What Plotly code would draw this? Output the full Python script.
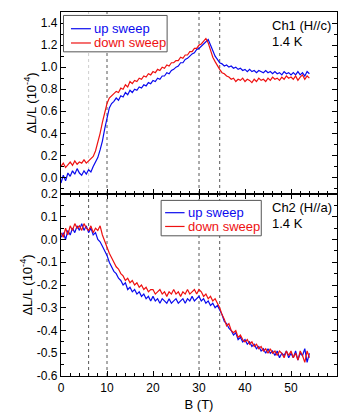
import plotly.graph_objects as go

# Field sweep grid (tesla), 0.5 T steps from 0 to 54 T
field_T = [round(0.5 * i, 1) for i in range(109)]

# Ch1 (H//c), 1.4 K, dL/L in units of 1e-4
ch1_up = [
    -0.05, 0.02, -0.03, 0.04, 0.01, 0.06, 0.03, 0.08, 0.04, 0.02,
    0.06, 0.03, 0.07, 0.05, 0.10, 0.14, 0.18, 0.25, 0.33, 0.44,
    0.54, 0.63, 0.67, 0.69, 0.72, 0.70, 0.74, 0.73, 0.77, 0.75,
    0.79, 0.77, 0.80, 0.79, 0.82, 0.81, 0.84, 0.83, 0.86, 0.85,
    0.88, 0.87, 0.90, 0.89, 0.92, 0.92, 0.95, 0.94, 0.97, 0.98,
    1.00, 1.01, 1.04, 1.04, 1.07, 1.08, 1.10, 1.12, 1.13, 1.16,
    1.17, 1.19, 1.21, 1.23, 1.25, 1.20, 1.15, 1.10, 1.07, 1.04,
    1.03, 1.01, 1.02, 1.00, 1.01, 0.99, 1.00, 0.98, 0.99, 0.97,
    0.98, 0.96, 0.98, 0.96, 0.97, 0.95, 0.97, 0.96, 0.95, 0.97,
    0.95, 0.96, 0.94, 0.96, 0.94, 0.95, 0.93, 0.96, 0.94, 0.95,
    0.93, 0.95, 0.93, 0.96, 0.93, 0.95, 0.92, 0.96, 0.94,
]
ch1_down = [
    0.10, 0.13, 0.09, 0.12, 0.14, 0.11, 0.15, 0.12, 0.14, 0.13,
    0.16, 0.13, 0.15, 0.17, 0.19, 0.24, 0.31, 0.40, 0.50, 0.60,
    0.67, 0.72, 0.74, 0.76, 0.78, 0.77, 0.81, 0.80, 0.84, 0.82,
    0.87, 0.85, 0.88, 0.87, 0.90, 0.89, 0.92, 0.91, 0.94, 0.93,
    0.96, 0.95, 0.98, 0.97, 1.00, 0.99, 1.02, 1.01, 1.04, 1.04,
    1.06, 1.06, 1.09, 1.08, 1.11, 1.11, 1.14, 1.14, 1.17, 1.17,
    1.20, 1.21, 1.24, 1.26, 1.22, 1.15, 1.09, 1.05, 1.01, 0.98,
    0.95, 0.94, 0.92, 0.91, 0.89, 0.90, 0.87, 0.89, 0.88, 0.90,
    0.87, 0.89, 0.88, 0.86, 0.89, 0.87, 0.90, 0.88, 0.89, 0.87,
    0.90, 0.88, 0.91, 0.89, 0.90, 0.88, 0.91, 0.89, 0.92, 0.90,
    0.91, 0.89, 0.92, 0.88, 0.91, 0.93, 0.89, 0.92, 0.90,
]

# Ch2 (H//a), 1.4 K
ch2_up = [
    0.01, 0.03, 0.00, 0.04, 0.02, 0.05, 0.03, 0.06, 0.04, 0.07,
    0.04, 0.06, 0.03, 0.05, 0.02, 0.03, 0.00, -0.01, -0.03, -0.05,
    -0.07, -0.10, -0.12, -0.14, -0.15, -0.17, -0.18, -0.20, -0.19, -0.22,
    -0.21, -0.23, -0.22, -0.24, -0.23, -0.25, -0.24, -0.26, -0.25, -0.27,
    -0.25, -0.27, -0.26, -0.28, -0.26, -0.27, -0.28, -0.26, -0.28, -0.27,
    -0.26, -0.28, -0.27, -0.26, -0.28, -0.26, -0.27, -0.25, -0.27, -0.26,
    -0.25, -0.27, -0.26, -0.28, -0.27, -0.29, -0.28, -0.30, -0.29, -0.31,
    -0.33, -0.36, -0.37, -0.39, -0.40, -0.42, -0.41, -0.44, -0.43, -0.45,
    -0.44, -0.46, -0.45, -0.47, -0.46, -0.48, -0.47, -0.49, -0.48, -0.50,
    -0.48, -0.50, -0.49, -0.51, -0.49, -0.52, -0.50, -0.51, -0.49, -0.52,
    -0.50, -0.52, -0.49, -0.53, -0.50, -0.51, -0.48, -0.54, -0.50,
]
ch2_down = [
    0.03, 0.01, 0.05, 0.02, 0.06, 0.04, 0.07, 0.05, 0.06, 0.04,
    0.07, 0.05, 0.04, 0.06, 0.03, 0.05, 0.04, 0.06, 0.02, -0.01,
    -0.04, -0.06, -0.08, -0.10, -0.12, -0.13, -0.15, -0.16, -0.18, -0.17,
    -0.19, -0.18, -0.20, -0.19, -0.21, -0.20, -0.22, -0.21, -0.23, -0.22,
    -0.22, -0.24, -0.23, -0.22, -0.24, -0.23, -0.25, -0.23, -0.24, -0.22,
    -0.24, -0.23, -0.25, -0.23, -0.24, -0.22, -0.24, -0.23, -0.22, -0.24,
    -0.22, -0.23, -0.25, -0.24, -0.26, -0.25, -0.27, -0.26, -0.28, -0.30,
    -0.33, -0.35, -0.38, -0.37, -0.40, -0.41, -0.40, -0.43, -0.42, -0.44,
    -0.45, -0.44, -0.46, -0.45, -0.47, -0.46, -0.48, -0.47, -0.49, -0.48,
    -0.50, -0.48, -0.50, -0.49, -0.51, -0.49, -0.50, -0.52, -0.49, -0.51,
    -0.49, -0.52, -0.50, -0.53, -0.49, -0.51, -0.54, -0.49, -0.52,
]

# Characteristic fields marked by dashed lines (T)
marker_fields = [6, 10, 30, 34.5]

x_ticks = [0, 10, 20, 30, 40, 50, 60]
top_ticks = [0.0, 0.2, 0.4, 0.6, 0.8, 1.0, 1.2, 1.4]
bot_ticks = [-0.6, -0.5, -0.4, -0.3, -0.2, -0.1, 0.0, 0.1]
bot_edge_tick = 0.2  # top end of the Ch2 axis, labelled on the panel divider

series_names = ["up sweep", "down sweep"]

BLUE = "#0a0aee"
RED = "#ee1111"
FONT = "Liberation Sans, Arial, sans-serif"

# Page geometry (px) used to place the hand-built legend boxes
W, H = 343, 415
ML, MR, MT, MB = 61, 5, 12, 33
PW, PH = W - ML - MR, H - MT - MB
SPLIT = 0.5  # paper fraction where the two panels meet


def px(xp):
    return (xp - ML) / PW


def py(yp):
    return (H - MB - yp) / PH


fig = go.Figure()

# Lower panel (Ch2) on x / y
fig.add_trace(go.Scatter(x=field_T, y=ch2_up, mode="lines",
                         line=dict(color=BLUE, width=1.2), name=series_names[0],
                         xaxis="x", yaxis="y", showlegend=False))
fig.add_trace(go.Scatter(x=field_T, y=ch2_down, mode="lines",
                         line=dict(color=RED, width=1.2), name=series_names[1],
                         xaxis="x", yaxis="y", showlegend=False))
# Upper panel (Ch1) on x2 / y2
fig.add_trace(go.Scatter(x=field_T, y=ch1_up, mode="lines",
                         line=dict(color=BLUE, width=1.2), name=series_names[0],
                         xaxis="x2", yaxis="y2", showlegend=False))
fig.add_trace(go.Scatter(x=field_T, y=ch1_down, mode="lines",
                         line=dict(color=RED, width=1.2), name=series_names[1],
                         xaxis="x2", yaxis="y2", showlegend=False))

shapes = []
for bf in marker_fields:
    for xr, yr in (("x", "y domain"), ("x2", "y2 domain")):
        col = "#c8c8c8" if (bf == 6 and xr == "x2") else "#444444"
        shapes.append(dict(type="line", xref=xr, yref=yr, x0=bf, x1=bf, y0=0, y1=1,
                           layer="below", line=dict(color=col, width=0.9, dash="3px,3px")))

annotations = []


def add_legend(box, line_x, rows):
    x0, x1, y0, y1 = box
    shapes.append(dict(type="rect", xref="paper", yref="paper",
                       x0=px(x0), x1=px(x1), y0=py(y1), y1=py(y0),
                       line=dict(color="#555555", width=1), fillcolor="white"))
    for (yc, label, col) in rows:
        shapes.append(dict(type="line", xref="paper", yref="paper",
                           x0=px(line_x[0]), x1=px(line_x[1]), y0=py(yc), y1=py(yc),
                           line=dict(color=col, width=1.2)))
        annotations.append(dict(text=label, xref="paper", yref="paper",
                                x=px(line_x[1] + 1), y=py(yc), xanchor="left", yanchor="middle",
                                showarrow=False, font=dict(family=FONT, size=13, color=col)))


add_legend((63.5, 167.5, 15.5, 52.5), (71, 91),
           [(29, series_names[0], BLUE), (43.5, series_names[1], RED)])
add_legend((161.5, 262, 203.5, 239.5), (165.5, 185),
           [(216, series_names[0], BLUE), (230, series_names[1], RED)])

annotations += [
    dict(text="Ch1 (H//c)", xref="paper", yref="paper", x=px(271), y=py(26),
         xanchor="left", yanchor="middle", showarrow=False, font=dict(family=FONT, size=13)),
    dict(text="1.4 K", xref="paper", yref="paper", x=px(271), y=py(42),
         xanchor="left", yanchor="middle", showarrow=False, font=dict(family=FONT, size=13)),
    dict(text="Ch2 (H//a)", xref="paper", yref="paper", x=px(271), y=py(211),
         xanchor="left", yanchor="middle", showarrow=False, font=dict(family=FONT, size=13)),
    dict(text="1.4 K", xref="paper", yref="paper", x=px(271), y=py(227),
         xanchor="left", yanchor="middle", showarrow=False, font=dict(family=FONT, size=13)),
    # label for the top end of the Ch2 axis, sitting on the divider line
    dict(text=f"{bot_edge_tick:.1f}", xref="paper", yref="paper", x=-0.005, y=SPLIT,
         xanchor="right", showarrow=False,
         font=dict(family=FONT, size=12, color="black")),
]

axis_common = dict(showline=True, linecolor="black", linewidth=1.3,
                   ticks="inside", ticklen=5, tickwidth=1, tickcolor="black",
                   showgrid=False, zeroline=False,
                   tickfont=dict(family=FONT, size=12, color="black"))

fig.update_layout(
    width=W, height=H,
    margin=dict(l=ML, r=MR, t=MT, b=MB),
    paper_bgcolor="white", plot_bgcolor="white",
    showlegend=False,
    font=dict(family=FONT, size=12, color="black"),
    xaxis=dict(axis_common, domain=[0, 1], range=[0, 60], anchor="y",
               tickvals=x_ticks, mirror="ticks",
               minor=dict(dtick=2, tick0=0, ticks="inside", ticklen=3, tickcolor="black"),
               title=dict(text="B (T)", font=dict(family=FONT, size=13), standoff=6)),
    xaxis2=dict(axis_common, domain=[0, 1], range=[0, 60], anchor="y2",
                tickvals=x_ticks, showticklabels=False, mirror=True,
                minor=dict(dtick=2, tick0=0, ticks="inside", ticklen=3, tickcolor="black")),
    yaxis=dict(axis_common, domain=[0, SPLIT], range=[-0.6, bot_edge_tick], anchor="x",
               tickvals=bot_ticks, ticktext=[f"{v:.1f}" for v in bot_ticks],
               mirror="ticks",
               minor=dict(dtick=0.05, tick0=0, ticks="inside", ticklen=3, tickcolor="black"),
               title=dict(text="\u0394L/L (10<sup>-4</sup>)", font=dict(family=FONT, size=13), standoff=1)),
    yaxis2=dict(axis_common, domain=[SPLIT, 1], range=[-0.15, 1.5], anchor="x2",
                tickvals=top_ticks, ticktext=[f"{v:.1f}" for v in top_ticks],
                mirror="ticks",
                minor=dict(dtick=0.1, tick0=0, ticks="inside", ticklen=3, tickcolor="black"),
                title=dict(text="\u0394L/L (10<sup>-4</sup>)", font=dict(family=FONT, size=13), standoff=1)),
    shapes=shapes,
    annotations=annotations,
)

fig.write_html("out.html")
